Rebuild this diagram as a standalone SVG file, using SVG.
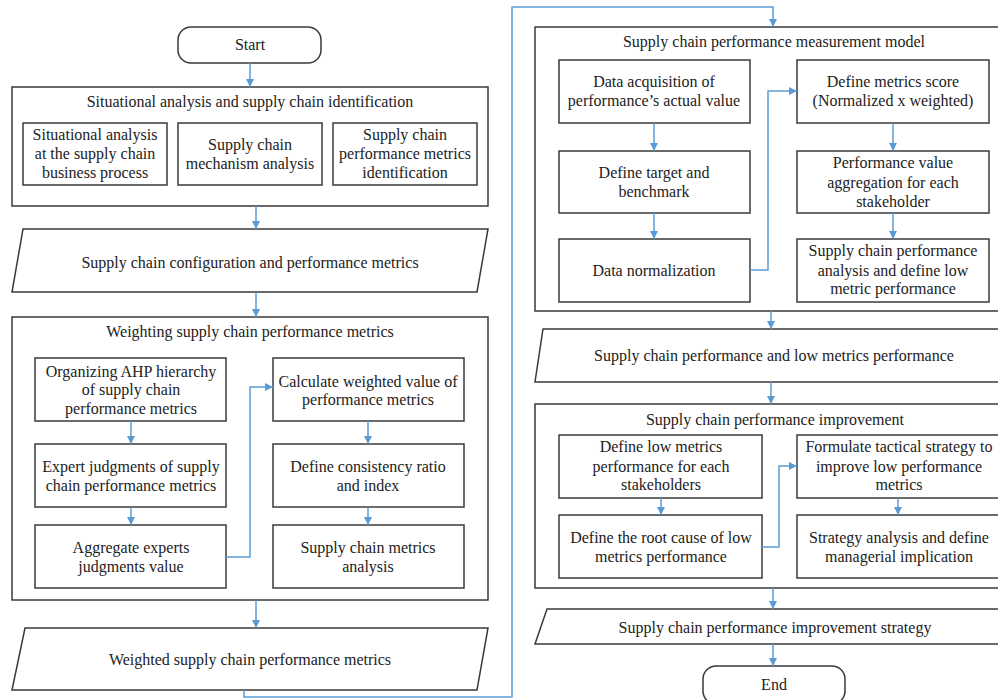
<svg xmlns="http://www.w3.org/2000/svg" width="998" height="700" viewBox="0 0 998 700">
<style>
.bx{fill:#fff;stroke:#3a3a3a;stroke-width:1.5}
.t{font-family:"Liberation Serif","Times New Roman",serif;font-size:16px;fill:#222;text-anchor:middle}
.c{fill:none;stroke:#5B9BD5;stroke-width:1.5}
</style>
<defs>
<marker id="ah" viewBox="0 0 10 10" refX="10" refY="5" markerWidth="8" markerHeight="8" orient="auto" markerUnits="userSpaceOnUse"><path d="M0,0 L10,5 L0,10 z" fill="#5B9BD5"/></marker>
</defs>
<rect width="998" height="700" fill="#fff"/>

<g id="start"><rect class="bx" x="178" y="27" width="143" height="36" rx="13"/><text class="t" x="250" y="50">Start</text></g>

<g id="group1">
<rect class="bx" x="12" y="87" width="476" height="119"/>
<text class="t" x="250" y="107">Situational analysis and supply chain identification</text>
</g>
<g id="n1a"><rect class="bx" x="23" y="123" width="144" height="62"/><text class="t" x="95" y="140">Situational analysis</text><text class="t" x="95" y="159">at the supply chain</text><text class="t" x="95" y="178">business process</text></g>
<g id="n1b"><rect class="bx" x="178" y="123" width="144" height="62"/><text class="t" x="250" y="150">Supply chain</text><text class="t" x="250" y="169">mechanism analysis</text></g>
<g id="n1c"><rect class="bx" x="333" y="123" width="144" height="62"/><text class="t" x="405" y="140">Supply chain</text><text class="t" x="405" y="159">performance metrics</text><text class="t" x="405" y="178">identification</text></g>

<g id="para1"><polygon class="bx" points="23,229 488,229 477,292 12,292"/><text class="t" x="250" y="268">Supply chain configuration and performance metrics</text></g>

<g id="group2">
<rect class="bx" x="12" y="317" width="476" height="283"/>
<text class="t" x="250" y="337">Weighting supply chain performance metrics</text>
</g>
<g id="n2l1"><rect class="bx" x="35" y="358" width="191" height="63"/><text class="t" x="131" y="377">Organizing AHP hierarchy</text><text class="t" x="131" y="395">of supply chain</text><text class="t" x="131" y="414">performance metrics</text></g>
<g id="n2l2"><rect class="bx" x="35" y="444" width="191" height="63"/><text class="t" x="131" y="472">Expert judgments of supply</text><text class="t" x="131" y="491">chain performance metrics</text></g>
<g id="n2l3"><rect class="bx" x="35" y="525" width="191" height="63"/><text class="t" x="131" y="553">Aggregate experts</text><text class="t" x="131" y="572">judgments value</text></g>
<g id="n2r1"><rect class="bx" x="273" y="358" width="191" height="63"/><text class="t" x="368" y="387">Calculate weighted value of</text><text class="t" x="368" y="405">performance metrics</text></g>
<g id="n2r2"><rect class="bx" x="273" y="444" width="191" height="63"/><text class="t" x="368" y="472">Define consistency ratio</text><text class="t" x="368" y="491">and index</text></g>
<g id="n2r3"><rect class="bx" x="273" y="525" width="191" height="63"/><text class="t" x="368" y="553">Supply chain metrics</text><text class="t" x="368" y="572">analysis</text></g>

<g id="para2"><polygon class="bx" points="25,628 488,628 477,690 12,690"/><text class="t" x="250" y="665">Weighted supply chain performance metrics</text></g>

<g id="group3">
<rect class="bx" x="535" y="27" width="478" height="284"/>
<text class="t" x="774" y="47">Supply chain performance measurement model</text>
</g>
<g id="n3l1"><rect class="bx" x="559" y="60" width="191" height="63"/><text class="t" x="654" y="87">Data acquisition of</text><text class="t" x="654" y="106">performance’s actual value</text></g>
<g id="n3l2"><rect class="bx" x="559" y="151" width="191" height="62"/><text class="t" x="654" y="178">Define target and</text><text class="t" x="654" y="197">benchmark</text></g>
<g id="n3l3"><rect class="bx" x="559" y="239" width="191" height="63"/><text class="t" x="654" y="276">Data normalization</text></g>
<g id="n3r1"><rect class="bx" x="797" y="60" width="192" height="63"/><text class="t" x="893" y="87">Define metrics score</text><text class="t" x="893" y="106">(Normalized x weighted)</text></g>
<g id="n3r2"><rect class="bx" x="797" y="151" width="192" height="62"/><text class="t" x="893" y="168">Performance value</text><text class="t" x="893" y="188">aggregation for each</text><text class="t" x="893" y="207">stakeholder</text></g>
<g id="n3r3"><rect class="bx" x="797" y="239" width="192" height="63"/><text class="t" x="893" y="256">Supply chain performance</text><text class="t" x="893" y="276">analysis and define low</text><text class="t" x="893" y="294">metric performance</text></g>

<g id="para3"><polygon class="bx" points="543,329 1012,329 1004,382 535,382"/><text class="t" x="774" y="361">Supply chain performance and low metrics performance</text></g>

<g id="group4">
<rect class="bx" x="535" y="404" width="490" height="184"/>
<text class="t" x="775" y="425">Supply chain performance improvement</text>
</g>
<g id="n4l1"><rect class="bx" x="559" y="435" width="203" height="63"/><text class="t" x="661" y="452">Define low metrics</text><text class="t" x="661" y="472">performance for each</text><text class="t" x="661" y="490">stakeholders</text></g>
<g id="n4l2"><rect class="bx" x="559" y="515" width="203" height="63"/><text class="t" x="661" y="543">Define the root cause of low</text><text class="t" x="661" y="562">metrics performance</text></g>
<g id="n4r1"><rect class="bx" x="797" y="435" width="205" height="63"/><text class="t" x="899" y="452">Formulate tactical strategy to</text><text class="t" x="899" y="472">improve low performance</text><text class="t" x="899" y="490">metrics</text></g>
<g id="n4r2"><rect class="bx" x="797" y="515" width="205" height="63"/><text class="t" x="899" y="543">Strategy analysis and define</text><text class="t" x="899" y="562">managerial implication</text></g>

<g id="para4"><polygon class="bx" points="547,609 1012,609 1002,644 535,644"/><text class="t" x="775" y="633">Supply chain performance improvement strategy</text></g>

<g id="end"><rect class="bx" x="703" y="666" width="142" height="38" rx="13"/><text class="t" x="774" y="690">End</text></g>

<g id="connectors">
<path class="c" marker-end="url(#ah)" d="M250,63 V87"/>
<path class="c" marker-end="url(#ah)" d="M256,206 V229"/>
<path class="c" marker-end="url(#ah)" d="M256,292 V317"/>
<path class="c" marker-end="url(#ah)" d="M131,421 V444"/>
<path class="c" marker-end="url(#ah)" d="M131,507 V525"/>
<path class="c" marker-end="url(#ah)" d="M226,557 H250 V387 H273"/>
<path class="c" marker-end="url(#ah)" d="M368,421 V444"/>
<path class="c" marker-end="url(#ah)" d="M368,507 V525"/>
<path class="c" marker-end="url(#ah)" d="M256,600 V628"/>
<path class="c" marker-end="url(#ah)" d="M244,690 V697 H512 V7 H773 V27"/>
<path class="c" marker-end="url(#ah)" d="M654,123 V151"/>
<path class="c" marker-end="url(#ah)" d="M654,213 V239"/>
<path class="c" marker-end="url(#ah)" d="M750,270 H768 V91 H797"/>
<path class="c" marker-end="url(#ah)" d="M893,123 V151"/>
<path class="c" marker-end="url(#ah)" d="M893,213 V239"/>
<path class="c" marker-end="url(#ah)" d="M771,311 V329"/>
<path class="c" marker-end="url(#ah)" d="M771,382 V404"/>
<path class="c" marker-end="url(#ah)" d="M661,498 V515"/>
<path class="c" marker-end="url(#ah)" d="M762,547 H779 V466 H797"/>
<path class="c" marker-end="url(#ah)" d="M898,498 V515"/>
<path class="c" marker-end="url(#ah)" d="M773,588 V609"/>
<path class="c" marker-end="url(#ah)" d="M773,644 V666"/>
</g>
</svg>
